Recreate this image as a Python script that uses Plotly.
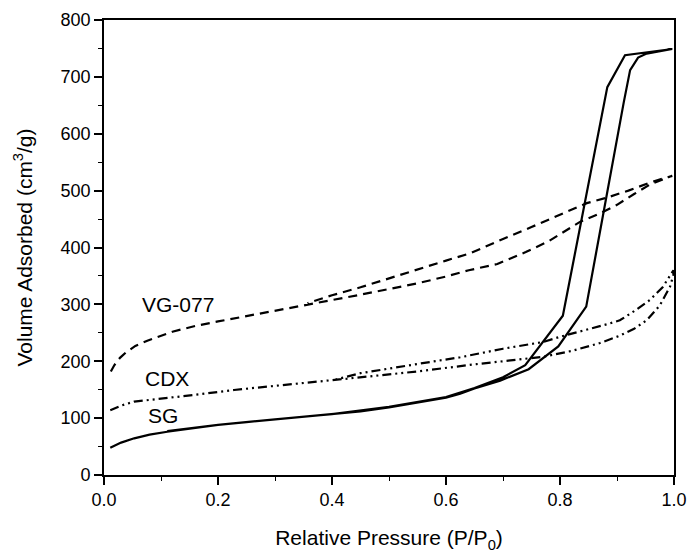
import plotly.graph_objects as go

# ---- data ----
sg_ads_p = [0.011, 0.03, 0.053, 0.08, 0.111, 0.15, 0.2, 0.25, 0.3, 0.35, 0.4, 0.45, 0.5, 0.55, 0.6, 0.625, 0.65, 0.695, 0.745, 0.797, 0.846, 0.912, 0.923, 0.937, 0.952, 0.997]
sg_ads_v = [48, 57, 64.5, 71, 76, 81, 88, 93, 98, 102, 107, 112, 119, 127, 136, 143, 152, 166, 186, 226, 296, 656, 712, 734, 741, 749]
sg_des_p = [0.997, 0.914, 0.883, 0.805, 0.739, 0.7, 0.65, 0.6, 0.5, 0.4, 0.3, 0.2, 0.111]
sg_des_v = [749, 738, 682, 280, 193, 172, 153, 137, 120, 107, 98, 88, 77]

vg_ads_p = [0.012, 0.018, 0.028, 0.038, 0.055, 0.076, 0.12, 0.16, 0.2, 0.26, 0.32, 0.36, 0.4, 0.45, 0.5, 0.55, 0.6, 0.64, 0.69, 0.74, 0.78, 0.835, 0.87, 0.9, 0.93, 0.96, 0.997]
vg_ads_v = [182, 193, 206, 215, 227, 236, 252, 262, 270, 281, 293, 300, 308, 317, 327, 337, 349, 360, 371, 392, 411, 445, 460, 475, 494, 512, 526]
vg_des_p = [0.997, 0.96, 0.92, 0.88, 0.847, 0.806, 0.75, 0.7, 0.643, 0.6, 0.555, 0.491, 0.45, 0.4, 0.357]
vg_des_v = [526, 515, 500, 487, 478, 460, 436, 415, 390, 377, 363, 343, 330, 316, 302]

cdx_ads_p = [0.011, 0.03, 0.053, 0.08, 0.111, 0.16, 0.228, 0.28, 0.345, 0.403, 0.462, 0.549, 0.625, 0.654, 0.7, 0.771, 0.82, 0.87, 0.905, 0.93, 0.952, 0.975, 0.993, 0.999]
cdx_ads_v = [114, 122, 129, 132, 135, 141, 149.5, 155, 161, 167, 173, 182, 192, 195, 200, 208, 218, 232, 245, 257, 272, 298, 331, 352]
cdx_des_p = [0.999, 0.98, 0.958, 0.93, 0.905, 0.882, 0.8, 0.771, 0.7, 0.649, 0.625, 0.555, 0.52, 0.45, 0.403]
cdx_des_v = [360, 330, 308, 288, 272, 265, 243, 234, 222, 211, 207, 196, 190, 179, 167]

labels = ["VG-077", "CDX", "SG"]
label_p = [0.13, 0.11, 0.103]
label_v = [299, 170, 104]

FONT = "Liberation Sans, Arial, sans-serif"

fig = go.Figure()

def add(p_a, v_a, p_d, v_d, dash, name):
    fig.add_trace(go.Scatter(x=p_a + p_d, y=v_a + v_d, mode="lines", name=name,
                             line=dict(color="black", width=2.2, dash=dash),
                             showlegend=False))

add(sg_ads_p, sg_ads_v, sg_des_p, sg_des_v, "solid", "SG")
add(vg_ads_p, vg_ads_v, vg_des_p, vg_des_v, "9px,6px", "VG-077")
add(cdx_ads_p, cdx_ads_v, cdx_des_p, cdx_des_v, "9px,4px,2px,4px,2px,4px", "CDX")

for t, p, v in zip(labels, label_p, label_v):
    fig.add_annotation(x=p, y=v, text=t, showarrow=False, xanchor="center", yanchor="middle",
                       font=dict(family=FONT, size=21, color="black"))

axis_common = dict(
    showgrid=False, zeroline=False, showline=True, linecolor="black", linewidth=1.6,
    mirror=True, ticks="outside", ticklen=8, tickwidth=1.6, tickcolor="black",
    tickfont=dict(family=FONT, size=18, color="black"),
)

fig.update_xaxes(range=[0, 1], tick0=0, dtick=0.2, tickformat=".1f",
                 minor=dict(ticks="outside", ticklen=4, tickwidth=1.4, tickcolor="black", dtick=0.1),
                 title=dict(text="Relative Pressure (P/P<sub>0</sub>)", font=dict(family=FONT, size=21, color="black"), standoff=21),
                 **axis_common)
fig.update_yaxes(range=[0, 800], tick0=0, dtick=100,
                 minor=dict(ticks="outside", ticklen=4, tickwidth=1.4, tickcolor="black", dtick=50),
                 title=dict(text="Volume Adsorbed (cm<sup>3</sup>/g)", font=dict(family=FONT, size=21, color="black"), standoff=22),
                 **axis_common)

fig.update_layout(width=690, height=557, margin=dict(l=104, r=16, t=20, b=82, autoexpand=False),
                  plot_bgcolor="white", paper_bgcolor="white", font=dict(family=FONT, color="black"))

fig.write_html("out.html")
